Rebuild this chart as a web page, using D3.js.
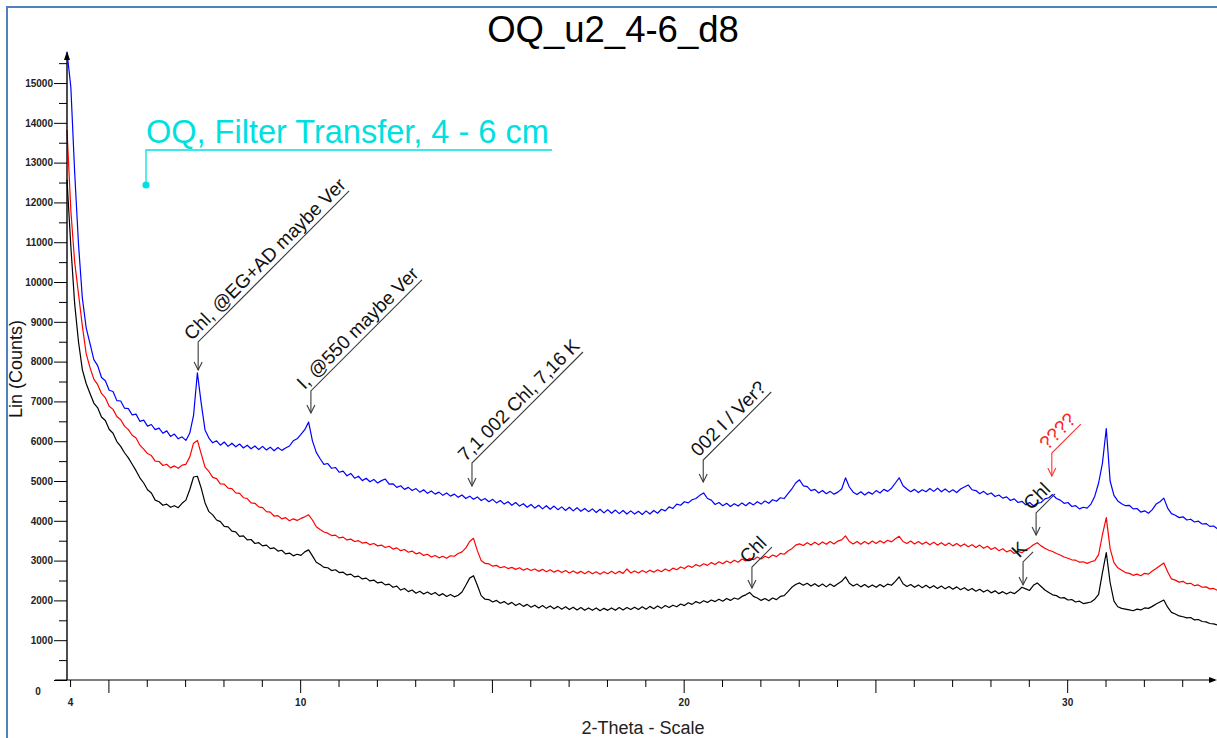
<!DOCTYPE html>
<html>
<head>
<meta charset="utf-8">
<script src="https://cdn.jsdelivr.net/npm/d3@7"></script>
<style>
  html, body { margin: 0; padding: 0; background: #fff; }
  svg { display: block; font-family: "Liberation Sans", Arial, sans-serif; }
</style>
</head>
<body>
<script>
// ---------- DATA ----------
const chartTitle = "OQ_u2_4-6_d8";
const sampleLabel = "OQ, Filter Transfer, 4 - 6 cm";
const xAxisTitle = "2-Theta - Scale";
const yAxisTitle = "Lin (Counts)";

// scan: first 2-theta and step (degrees)
const twoThetaStart = 3.92;
const twoThetaStep = 0.1;

const blueCounts = [
15780,14900,12750,10950,9600,8850,8450,8050,7900,7600,
7520,7280,7250,7020,7010,6830,6820,6660,6680,6500,
6530,6380,6420,6290,6330,6200,6260,6120,6180,6060,
6110,6020,6200,6650,7720,6950,6280,6080,5960,6010,
5900,5980,5870,5950,5860,5930,5830,5900,5810,5880,
5790,5870,5780,5850,5760,5840,5770,5830,5880,6010,
6060,6170,6290,6480,6010,5720,5560,5420,5440,5320,
5340,5220,5250,5130,5190,5070,5120,5010,5070,4980,
5040,4950,5010,5050,4920,4930,4840,4880,4790,4840,
4760,4810,4720,4780,4690,4750,4670,4720,4640,4700,
4620,4670,4590,4650,4560,4620,4540,4600,4510,4560,
4480,4540,4450,4510,4420,4480,4390,4460,4370,4430,
4340,4410,4320,4390,4300,4380,4290,4370,4280,4350,
4260,4340,4250,4330,4240,4310,4230,4300,4210,4290,
4200,4280,4190,4270,4180,4260,4170,4250,4170,4240,
4160,4250,4170,4260,4190,4290,4250,4350,4310,4420,
4390,4480,4450,4530,4560,4640,4700,4560,4520,4410,
4460,4380,4440,4360,4430,4370,4450,4380,4460,4400,
4480,4420,4500,4440,4530,4490,4580,4560,4680,4800,
4950,5030,4880,4860,4760,4790,4700,4760,4680,4740,
4670,4720,4800,5080,4850,4720,4660,4730,4650,4720,
4670,4760,4700,4790,4740,4820,4950,5080,4880,4800,
4730,4790,4710,4780,4730,4810,4740,4820,4730,4800,
4720,4780,4710,4800,4850,4900,4780,4760,4680,4740,
4660,4700,4610,4650,4570,4600,4510,4550,4460,4490,
4400,4460,4380,4440,4460,4550,4580,4660,4560,4520,
4440,4460,4360,4380,4300,4340,4320,4420,4620,4950,
5450,6320,5000,4640,4500,4430,4380,4390,4300,4310,
4220,4250,4190,4280,4420,4480,4570,4320,4180,4140,
4080,4100,4020,4040,3970,3990,3920,3930,3860,3870,
3800];

const redCounts = [
13820,11800,10500,9700,8900,8200,7850,7560,7420,7200,
7090,6880,6800,6620,6540,6380,6290,6150,6080,5900,
5800,5690,5640,5500,5490,5390,5420,5330,5380,5320,
5400,5420,5600,5950,6020,5680,5350,5240,5090,5060,
4930,4920,4820,4810,4700,4690,4580,4560,4450,4440,
4350,4330,4230,4220,4120,4130,4050,4080,4000,4050,
4010,4060,4100,4150,4020,3850,3780,3720,3690,3630,
3640,3570,3590,3520,3540,3480,3500,3440,3460,3400,
3430,3370,3390,3330,3360,3290,3320,3250,3280,3210,
3240,3170,3200,3130,3160,3090,3130,3070,3110,3060,
3120,3110,3180,3220,3320,3480,3560,3250,3000,2930,
2920,2860,2880,2820,2850,2800,2830,2780,2820,2760,
2800,2750,2790,2730,2780,2720,2770,2710,2760,2700,
2750,2690,2740,2680,2730,2670,2730,2670,2720,2660,
2720,2670,2730,2670,2730,2680,2790,2690,2740,2690,
2750,2700,2760,2710,2770,2720,2790,2740,2810,2770,
2840,2800,2870,2830,2900,2860,2920,2880,2950,2900,
2970,2920,2990,2940,3010,2960,3040,2990,3060,3020,
3090,3040,3110,3070,3140,3100,3180,3160,3240,3300,
3390,3420,3380,3450,3390,3460,3400,3470,3410,3480,
3420,3490,3520,3620,3480,3420,3480,3410,3480,3420,
3490,3430,3500,3440,3510,3470,3550,3610,3480,3430,
3490,3420,3480,3410,3470,3400,3460,3390,3450,3380,
3440,3370,3430,3360,3420,3350,3400,3330,3390,3310,
3360,3280,3330,3250,3300,3220,3260,3180,3230,3200,
3270,3320,3400,3450,3370,3310,3260,3230,3180,3140,
3090,3060,3020,3010,2960,2970,2930,2970,3000,3150,
3650,4080,3300,2950,2820,2760,2700,2680,2630,2660,
2620,2680,2660,2740,2800,2870,2940,2720,2540,2510,
2460,2480,2420,2430,2370,2390,2330,2340,2290,2300,
2250];

const blackCounts = [
12570,10900,9450,8500,7800,7450,7200,6960,6840,6610,
6520,6300,6200,5990,5870,5710,5580,5420,5260,5080,
4950,4780,4700,4520,4480,4390,4420,4340,4380,4330,
4440,4520,4780,5100,5120,4820,4450,4230,4150,4020,
3980,3860,3850,3740,3720,3610,3620,3520,3530,3430,
3450,3370,3390,3300,3320,3240,3260,3170,3190,3120,
3160,3130,3220,3270,3120,2960,2900,2830,2820,2750,
2770,2700,2710,2640,2660,2590,2610,2540,2560,2490,
2510,2440,2460,2390,2410,2330,2360,2260,2300,2220,
2260,2180,2230,2160,2210,2150,2200,2120,2170,2100,
2150,2090,2130,2210,2380,2560,2620,2380,2120,2030,
2020,1960,2000,1930,1970,1900,1950,1870,1920,1850,
1900,1830,1880,1810,1870,1800,1860,1790,1850,1780,
1840,1770,1830,1760,1820,1750,1810,1750,1810,1740,
1800,1750,1810,1750,1820,1760,1820,1770,1830,1770,
1840,1780,1850,1790,1860,1800,1870,1820,1880,1840,
1910,1870,1940,1900,1970,1930,1990,1950,2010,1970,
2030,1980,2050,2000,2060,2030,2100,2140,2200,2100,
2060,2000,2050,1990,2060,2020,2100,2120,2220,2330,
2400,2440,2380,2430,2360,2420,2350,2410,2340,2410,
2350,2420,2480,2590,2430,2360,2410,2340,2400,2330,
2390,2330,2400,2340,2410,2380,2480,2590,2420,2350,
2400,2330,2390,2320,2380,2310,2370,2300,2360,2290,
2350,2280,2340,2270,2320,2250,2300,2230,2280,2210,
2260,2190,2240,2170,2220,2160,2210,2170,2240,2330,
2290,2250,2380,2440,2350,2260,2200,2140,2120,2060,
2070,2010,2020,1960,1980,1920,1940,1960,2030,2150,
2700,3200,2450,1980,1840,1800,1780,1760,1740,1780,
1760,1810,1800,1850,1910,1960,2010,1830,1700,1660,
1610,1590,1560,1570,1510,1520,1470,1460,1420,1410,
1380];

const seriesNames = ["black", "red", "blue"];

// axis ticks
const xTickValues = [4,5,6,7,8,9,10,11,12,13,14,15,16,17,18,19,20,21,22,23,24,25,26,27,28,29,30,31,32,33];
const xTickLabels = [4, 10, 20, 30];
const yTickValues = [0,500,1000,1500,2000,2500,3000,3500,4000,4500,5000,5500,6000,6500,7000,7500,
                     8000,8500,9000,9500,10000,10500,11000,11500,12000,12500,13000,13500,14000,14500,15000,15500];
const yTickLabels = [0,1000,2000,3000,4000,5000,6000,7000,8000,9000,10000,11000,12000,13000,14000,15000];

// peak annotations (position in data units)
const annotationLabels = ["Chl, @EG+AD maybe Ver", "I, @550 maybe Ver", "7,1 002 Chl, 7,16 K", "002 I / Ver?", "????", "Chl", "K", "Chl"];
const annotationTheta  = [7.34, 10.28, 14.48, 20.51, 29.6, 29.19, 28.85, 21.78];
const annotationCounts = [7790, 6710, 4875, 4975, 5125, 3645, 2390, 2310];

// ---------- STYLE / LAYOUT ----------
const W = 1217, H = 738;
const seriesColors = { black: "#000000", red: "#ff0000", blue: "#0000ff" };
const seriesData = { black: blackCounts, red: redCounts, blue: blueCounts };
const annStyle = [
  { stem: 28, diag: 151, color: "#3a3a3a", text: "#111" },
  { stem: 22, diag: 111, color: "#3a3a3a", text: "#111" },
  { stem: 23, diag: 111, color: "#3a3a3a", text: "#111" },
  { stem: 22, diag: 68,  color: "#3a3a3a", text: "#111" },
  { stem: 23, diag: 29,  color: "#ff3333", text: "#ff2020" },
  { stem: 22, diag: 19,  color: "#3a3a3a", text: "#111" },
  { stem: 23, diag: 10,  color: "#3a3a3a", text: "#111" },
  { stem: 21, diag: 20,  color: "#3a3a3a", text: "#111" }
];

const x = d3.scaleLinear().domain([3.92, 33.92]).range([67, 1217.5]);
const y = d3.scaleLinear().domain([0, 15780]).range([680, 52]);

const svg = d3.select("body").append("svg").attr("width", W).attr("height", H);
svg.append("rect").attr("width", W).attr("height", H).attr("fill", "#fff");

// frame
svg.append("path").attr("d", "M7,738 V7 H1217").attr("fill", "none")
  .attr("stroke", "#4f81bd").attr("stroke-width", 2);

// title
svg.append("text").attr("x", 613).attr("y", 42).attr("text-anchor", "middle")
  .attr("font-size", 36.5).attr("fill", "#000").text(chartTitle);

// series
const line = d3.line()
  .x((d, i) => x(twoThetaStart + i * twoThetaStep))
  .y(d => y(d));
seriesNames.forEach(name => {
  svg.append("path").datum(seriesData[name])
    .attr("fill", "none").attr("stroke", seriesColors[name])
    .attr("stroke-width", 1.2).attr("stroke-linejoin", "round")
    .attr("d", line);
});

// x axis
const xAxis = d3.axisBottom(x).tickValues(xTickValues).tickSize(7)
  .tickFormat(d => xTickLabels.includes(d) ? String(d) : "");
const gx = svg.append("g").attr("transform", "translate(0,680)").call(xAxis);
gx.select(".domain").remove();
gx.selectAll(".tick line").attr("y2", d => d % 5 === 0 ? 13 : 7).attr("stroke", "#000");
gx.selectAll(".tick text").attr("y", 19).attr("font-size", 10).attr("font-weight", "bold")
  .attr("font-family", "'Liberation Sans', Arial, sans-serif").attr("fill", "#222");
svg.append("line").attr("x1", 55).attr("x2", 1212).attr("y1", 680).attr("y2", 680)
  .attr("stroke", "#000").attr("stroke-width", 1.2);
svg.append("path").attr("d", "M1217,680 L1209,677 L1209,683 Z").attr("fill", "#000");

// y axis
const yAxis = d3.axisLeft(y).tickValues(yTickValues).tickSize(8)
  .tickFormat(d => yTickLabels.includes(d) ? String(d) : "");
const gy = svg.append("g").attr("transform", "translate(67,0)").call(yAxis);
gy.select(".domain").remove();
gy.selectAll(".tick line").attr("x2", d => d % 1000 === 0 ? -13 : -8).attr("stroke", "#000");
gy.selectAll(".tick text").attr("x", -14).attr("font-size", 10).attr("font-weight", "bold")
  .attr("font-family", "'Liberation Sans', Arial, sans-serif").attr("fill", "#222");
gy.selectAll(".tick text").filter(d => d === 0)
  .attr("x", -29).attr("text-anchor", "middle").attr("dy", "1.4em");
svg.append("line").attr("x1", 67).attr("x2", 67).attr("y1", 680).attr("y2", 58)
  .attr("stroke", "#000").attr("stroke-width", 1.4);
svg.append("path").attr("d", "M67,51 L64,60 L70,60 Z").attr("fill", "#000");

// axis titles
svg.append("text").attr("x", 643).attr("y", 734).attr("text-anchor", "middle")
  .attr("font-size", 18).attr("fill", "#222").text(xAxisTitle);
svg.append("text").attr("transform", "translate(22,369) rotate(-90)").attr("text-anchor", "middle")
  .attr("font-size", 18).attr("fill", "#111").text(yAxisTitle);

// sample label (cyan callout)
const cyan = "#00e0e0";
svg.append("text").attr("x", 146).attr("y", 143).attr("font-size", 32.5)
  .attr("fill", cyan).text(sampleLabel);
svg.append("path").attr("d", "M552,150 H146 V185").attr("fill", "none")
  .attr("stroke", cyan).attr("stroke-width", 1.3);
svg.append("circle").attr("cx", 146).attr("cy", 185).attr("r", 3.6).attr("fill", cyan);

// annotations
annotationLabels.forEach((label, i) => {
  const st = annStyle[i];
  const tx = x(annotationTheta[i]);
  const ty = y(annotationCounts[i]);
  const sx = tx, sy = ty - st.stem;
  const ex = sx + st.diag, ey = sy - st.diag;
  const g = svg.append("g");
  g.append("path").attr("d", `M${tx},${ty} L${sx},${sy} L${ex},${ey}`)
    .attr("fill", "none").attr("stroke", st.color).attr("stroke-width", 1.1);
  g.append("path").attr("d", `M${tx - 4},${ty - 8} L${tx},${ty} L${tx + 4},${ty - 8}`)
    .attr("fill", "none").attr("stroke", st.color).attr("stroke-width", 1.1);
  const mx = (sx + ex) / 2, my = (sy + ey) / 2;
  g.append("text").attr("transform", `translate(${mx},${my}) rotate(-45)`)
    .attr("x", -1).attr("y", -5).attr("text-anchor", "middle")
    .attr("font-size", 19).attr("fill", st.text).text(label);
});
</script>
</body>
</html>
